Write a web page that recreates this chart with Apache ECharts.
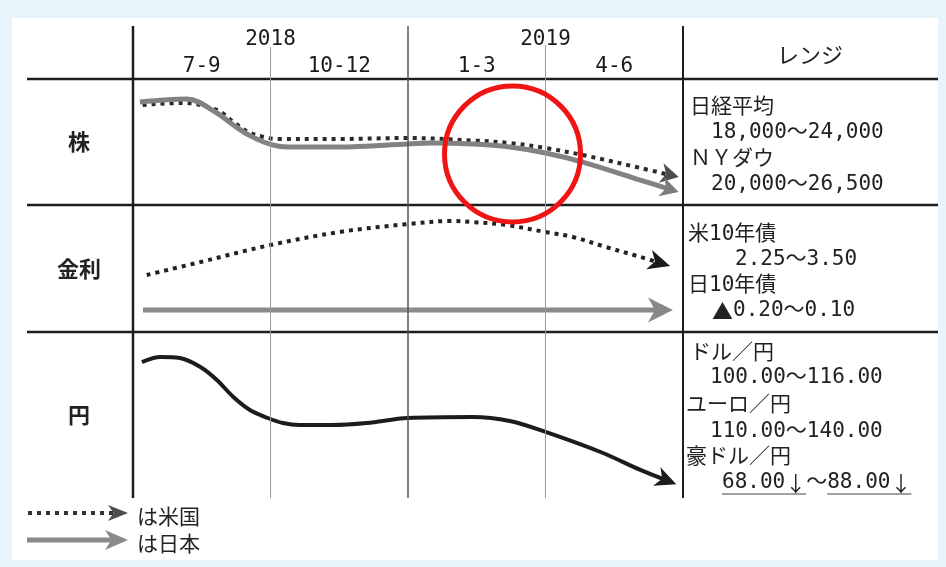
<!DOCTYPE html>
<html>
<head>
<meta charset="utf-8">
<style>
html, body { margin: 0; padding: 0; background: #e8f4fb; }
#main { width: 946px; height: 567px; }
</style>
<script src="https://cdn.jsdelivr.net/npm/echarts@6/dist/echarts.min.js"></script>
</head>
<body>
<div id="main"></div>
<script>
// 横軸: 0 = 2018年7月 … 4 = 2019年6月末 (1目盛 = 1四半期)
const years = ['2018', '2019'];
const quarters = ['7-9', '10-12', '1-3', '4-6'];
const rowLabels = ['株', '金利', '円'];

// 各行の中での相対的な高さ (0 = 行の下端, 100 = 行の上端)
const stockUS = [[0.07, 79.4], [0.36, 81], [0.61, 75.4], [0.73, 65.9], [0.84, 57.9], [0.95, 54], [1.05, 52.4],
  [1.5, 52.4], [2.0, 53.2], [2.47, 51.2], [2.74, 49.2], [3.0, 45.2], [3.27, 39.7], [3.69, 29.4], [3.905, 23.8]];
const stockJP = [[0.05, 81.7], [0.39, 84.1], [0.61, 73], [0.73, 63.5], [0.84, 55.6], [0.95, 50], [1.05, 46.8],
  [1.16, 46], [1.5, 46], [2.0, 48.4], [2.16, 49.2], [2.47, 48.4], [2.74, 46], [3.0, 41.3], [3.27, 34.1],
  [3.69, 19.8], [3.905, 12.4]];
const rateUS = [[0.1, 44.9], [0.49, 55.1], [1.0, 68.5], [1.5, 78.7], [2.0, 85], [2.31, 87.4], [2.47, 86.6],
  [2.71, 84.3], [3.0, 78.7], [3.2, 74.8], [3.44, 66.9], [3.69, 59.1], [3.83, 54.5]];
const rateJP = [[0.073, 17.3], [3.836, 17.3]];
const yen = [[0.065, 81.9], [0.2, 84.9], [0.34, 84.3], [0.49, 78.9], [0.61, 71.1], [0.73, 60.8], [0.85, 53],
  [0.98, 48.2], [1.09, 45.2], [1.21, 44], [1.45, 44], [1.7, 45.2], [2.0, 48.2], [2.47, 48.8], [2.74, 46.4],
  [3.0, 39.8], [3.4, 27.7], [3.69, 16.9], [3.88, 10.6]];

// レンジ欄の文字
const rangeStock = ['日経平均', '18,000～24,000', 'ＮＹダウ', '20,000～26,500'];
const rangeRate = ['米10年債', '2.25～3.50', '日10年債', '▲0.20～0.10'];
const rangeYen = ['ドル／円', '100.00～116.00', 'ユーロ／円', '110.00～140.00', '豪ドル／円'];
const audRange = ['68.00↓', '～', '88.00↓'];
const legendNames = ['は米国', 'は日本'];

// 注目箇所(赤丸)の中心
const highlight = [2.76, 40.5];

const FONT_JP = '"Noto Sans CJK JP", sans-serif';
const FONT_NUM = '"DejaVu Sans Mono", "Noto Sans CJK JP", monospace';
const INK = '#222';

const rows = [{ top: 79, height: 126 }, { top: 205, height: 127 }, { top: 332, height: 166 }];

// arrow: [長さ, 半幅]
const lines = [
  { grid: 0, data: stockUS, color: '#2a2a2a', width: 4, dash: [4, 5], arrowColor: '#4d4d4d', arrow: [18, 10] },
  { grid: 0, data: stockJP, color: '#828282', width: 5, dash: 'solid', arrowColor: '#7c7c7c', arrow: [18, 10] },
  { grid: 1, data: rateUS, color: '#222', width: 4, dash: [4, 5], arrowColor: '#1a1a1a', arrow: [22, 10] },
  { grid: 1, data: rateJP, color: '#8a8a8a', width: 5, dash: 'solid', arrowColor: '#888', arrow: [25, 12.5] },
  { grid: 2, data: yen, color: '#1c1c1c', width: 4, dash: 'solid', arrowColor: '#1c1c1c', arrow: [21, 10] }
];

let chartDom = document.getElementById('main');
let chart = echarts.init(chartDom);

let option = {
  backgroundColor: '#e8f4fb',
  animation: false,
  grid: rows.map(function (r) {
    return { left: 133, width: 550, top: r.top, height: r.height, outerBoundsMode: 'none', containLabel: false };
  }),
  xAxis: [
    {
      gridIndex: 0, type: 'value', min: 0, max: 4, interval: 1, position: 'top',
      axisLine: { show: false, onZero: false }, axisTick: { show: false }, splitLine: { show: false },
      axisLabel: {
        margin: 29, fontSize: 21, fontFamily: FONT_NUM, color: '#1a1a1a',
        formatter: function (v) { return v % 2 === 1 ? years[(v - 1) / 2] : ''; }
      }
    },
    { gridIndex: 1, type: 'value', min: 0, max: 4, interval: 1, show: false },
    { gridIndex: 2, type: 'value', min: 0, max: 4, interval: 1, show: false },
    {
      gridIndex: 0, type: 'category', data: quarters, position: 'top', boundaryGap: true,
      axisLine: { show: false, onZero: false }, axisTick: { show: false }, splitLine: { show: false },
      axisLabel: { margin: 2, interval: 0, fontSize: 21, fontFamily: FONT_NUM, color: '#1a1a1a' }
    }
  ],
  yAxis: rows.map(function (r, i) {
    return {
      gridIndex: i, type: 'value', min: 0, max: 100,
      axisLine: { show: false }, axisTick: { show: false }, axisLabel: { show: false }, splitLine: { show: false },
      name: rowLabels[i], nameLocation: 'middle', nameGap: 54, nameRotate: 0,
      nameTextStyle: {
        fontSize: 22, fontWeight: 'bold', fontFamily: FONT_JP, color: INK,
        align: 'center', verticalAlign: 'middle', padding: [8, 0, 0, 0]
      }
    };
  }),
  series: lines.map(function (l) {
    return {
      type: 'line',
      xAxisIndex: l.grid,
      yAxisIndex: l.grid,
      smooth: 0.35,
      symbol: 'none',
      silent: true,
      z: 3,
      lineStyle: { color: l.color, width: l.width, type: l.dash, cap: 'butt' },
      data: l.data
    };
  })
};

chart.setOption(option);

function px(g, x, y) {
  return chart.convertToPixel({ xAxisIndex: g, yAxisIndex: g }, [x, y]);
}

let measureCtx = document.createElement('canvas').getContext('2d');
function textWidth(t, font) {
  measureCtx.font = font;
  return measureCtx.measureText(t).width;
}

function txt(t, x, y, font, align) {
  align = align || 'left';
  return {
    type: 'text', z: 10,
    style: { text: t, x: x, y: y, font: font, fill: INK, align: align, verticalAlign: 'middle',
      textAlign: align, textVerticalAlign: 'middle' }
  };
}
function hline(x1, x2, y, w, c) {
  return { type: 'line', z: 5, shape: { x1: x1, y1: y, x2: x2, y2: y }, style: { stroke: c, lineWidth: w } };
}
function vline(x, y1, y2, w, c) {
  return { type: 'line', z: 5, shape: { x1: x, y1: y1, x2: x, y2: y2 }, style: { stroke: c, lineWidth: w } };
}
// 切り欠きのある矢じり (tip: 先端, dir: 単位方向ベクトル)
function arrowHead(tip, dir, len, half, color) {
  let nx = -dir[1], ny = dir[0];
  let bx = tip[0] - dir[0] * len, by = tip[1] - dir[1] * len;
  let mx = tip[0] - dir[0] * len * 0.72, my = tip[1] - dir[1] * len * 0.72;
  return {
    type: 'polygon', z: 6,
    shape: { points: [tip, [bx + nx * half, by + ny * half], [mx, my], [bx - nx * half, by - ny * half]] },
    style: { fill: color }
  };
}

let graphics = [];
// 白い台紙
graphics.push({ type: 'rect', z: -10, shape: { x: 12, y: 18, width: 926, height: 542 }, style: { fill: '#ffffff' } });

// 表の罫線
let tableBottom = px(2, 0, 0)[1];
let qx = [0, 1, 2, 3, 4].map(function (q) { return px(0, q, 0)[0]; });
rows.forEach(function (r) { graphics.push(hline(27, 938, r.top, 2.5, '#1e1e1e')); });
graphics.push(vline(qx[0], 26, tableBottom, 2.5, '#1e1e1e'));
graphics.push(vline(qx[1], 47, tableBottom, 1, '#9a9a9a'));
graphics.push(vline(qx[2], 26, tableBottom, 1.5, '#555'));
graphics.push(vline(qx[3], 45, tableBottom, 1, '#9a9a9a'));
graphics.push(vline(qx[4], 26, tableBottom, 2, '#1e1e1e'));

// 線の終点に矢じり: 最後の2点の向きで、終点を矢じりの中ほどに置く
lines.forEach(function (l) {
  let n = l.data.length;
  let a = px(l.grid, l.data[n - 2][0], l.data[n - 2][1]);
  let b = px(l.grid, l.data[n - 1][0], l.data[n - 1][1]);
  let dx = b[0] - a[0], dy = b[1] - a[1];
  let d = Math.sqrt(dx * dx + dy * dy);
  let dir = [dx / d, dy / d];
  let tip = [b[0] + dir[0] * l.arrow[0] * 0.5, b[1] + dir[1] * l.arrow[0] * 0.5];
  graphics.push(arrowHead(tip, dir, l.arrow[0], l.arrow[1], l.arrowColor));
});

// レンジ欄 (▲と↓は全角の字形で)
graphics.push(txt('レンジ', 810, 55, '22px ' + FONT_JP, 'center'));
let F = '21px ' + FONT_NUM;
let FW = '21px ' + FONT_JP;
function rangeText(t, x, y) {
  let buf = '';
  function flush() {
    if (buf) { graphics.push(txt(buf, x, y, F)); x += textWidth(buf, F); buf = ''; }
  }
  for (let ch of t) {
    if (ch === '▲' || ch === '↓') {
      flush();
      graphics.push(txt(ch, x, y, FW));
      x += textWidth(ch, FW);
    } else {
      buf += ch;
    }
  }
  flush();
  return x;
}
let stockX = [690, 711, 690, 711], stockY = [108, 133, 160, 185];
rangeStock.forEach(function (t, i) { rangeText(t, stockX[i], stockY[i]); });
let rateX = [688, 735, 688, 712], rateY = [235, 260, 286, 311];
rangeRate.forEach(function (t, i) { rangeText(t, rateX[i], rateY[i]); });
let yenX = [690, 710, 686, 710, 686], yenY = [354, 378, 406, 432, 458];
rangeYen.forEach(function (t, i) { rangeText(t, yenX[i], yenY[i]); });
let ax = 722;
audRange.forEach(function (t, i) {
  let end = rangeText(t, ax, 483);
  if (i !== 1) graphics.push(hline(ax, end, 494, 1.2, '#444'));
  ax = end;
});

// 凡例
graphics.push({
  type: 'polyline', z: 6, shape: { points: [[28, 513], [114, 513]] },
  style: { stroke: '#333', lineWidth: 4, lineDash: [4, 5], fill: null }
});
graphics.push(arrowHead([128, 513], [1, 0], 20, 8, '#4d4d4d'));
graphics.push(hline(27, 114, 540, 5, '#8a8a8a'));
graphics.push(arrowHead([128, 540], [1, 0], 23, 10, '#8a8a8a'));
graphics.push(txt(legendNames[0], 137, 516, '21px ' + FONT_JP));
graphics.push(txt(legendNames[1], 137, 543, '21px ' + FONT_JP));

// 赤丸
let hc = px(0, highlight[0], highlight[1]);
graphics.push({
  type: 'circle', z: 20, shape: { cx: hc[0], cy: hc[1], r: 68 },
  style: { fill: 'none', stroke: '#f01414', lineWidth: 5 }
});

chart.setOption({ graphic: graphics });

window.addEventListener('resize', function () {
  chart.resize();
});
</script>
</body>
</html>
